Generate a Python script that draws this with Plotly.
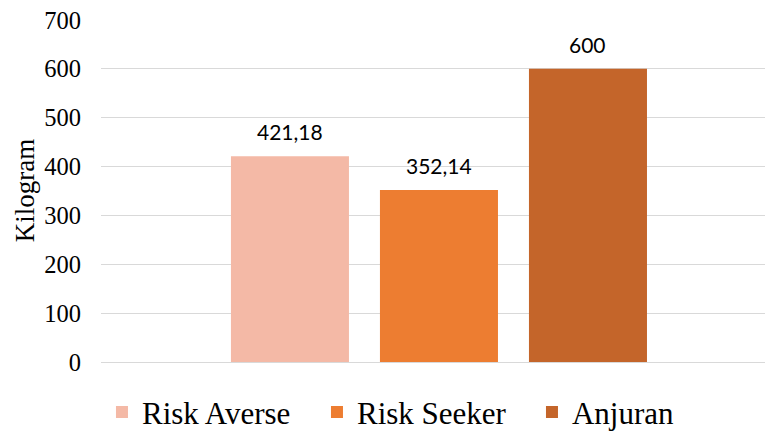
import plotly.graph_objects as go

series = ["Risk Averse", "Risk Seeker", "Anjuran"]
values = [421.18, 352.14, 600]
colors = ["#F4B9A6", "#ED7D31", "#C4652A"]
y_ticks = [0, 100, 200, 300, 400, 500, 600, 700]
y_title = "Kilogram"

serif = "Liberation Serif, Times New Roman, serif"
sans = "Lato, Open Sans, sans-serif"

def fmt(v):
    return f"{v:g}".replace(".", ",")

fig = go.Figure()
for name, val, col in zip(series, values, colors):
    fig.add_trace(go.Bar(x=[name], y=[val], name=name, marker=dict(color=col, line=dict(width=0))))
    fig.add_annotation(x=name, y=val, text=fmt(val), showarrow=False, yanchor="bottom",
                       yshift=10, font=dict(family=sans, size=21, color="#000000"))

fig.add_annotation(text=y_title, xref="paper", yref="paper", x=-0.114, y=0.5,
                   textangle=-90, showarrow=False, xanchor="center", yanchor="middle",
                   font=dict(family=serif, size=27, color="#000000"))

fig.update_layout(
    width=765, height=434,
    margin=dict(l=101, r=0, t=20, b=71.5, autoexpand=False),
    paper_bgcolor="white", plot_bgcolor="white",
    barmode="overlay", bargap=0.208,
    showlegend=True,
    legend=dict(orientation="h", xref="container", yref="container", x=0.1333, xanchor="left",
                y=0.05, yanchor="middle", entrywidth=170, entrywidthmode="pixels",
                font=dict(family=serif, size=31, color="#000000"), itemclick=False),
    xaxis=dict(categoryorder="array", categoryarray=series, range=[-1.268, 3.188],
               showticklabels=False, showgrid=False, zeroline=False, showline=False, ticks=""),
    yaxis=dict(range=[0, 700], tickvals=y_ticks, showgrid=True, gridcolor="#D9D9D9", gridwidth=1.3,
               zeroline=True, zerolinecolor="#D9D9D9", zerolinewidth=1.3, showline=False,
               ticks="", ticklabelstandoff=19,
               tickfont=dict(family=serif, size=24.5, color="#000000")),
)

fig.write_html("out.html")
